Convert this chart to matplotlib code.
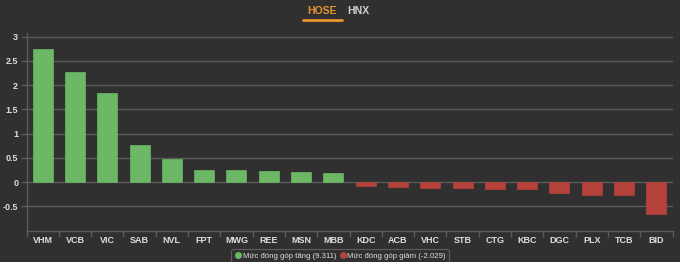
import matplotlib
matplotlib.use("Agg")
import matplotlib.pyplot as plt
from matplotlib.lines import Line2D

plt.rcParams["font.family"] = ["Liberation Sans", "DejaVu Sans"]

# data (HOSE tab)
tickers = ["VHM", "VCB", "VIC", "SAB", "NVL", "FPT", "MWG", "REE", "MSN", "MBB",
           "KDC", "ACB", "VHC", "STB", "CTG", "KBC", "DGC", "PLX", "TCB", "BID"]
contrib = [2.745, 2.27, 1.83, 0.77, 0.48, 0.26, 0.25, 0.23, 0.205, 0.18,
           -0.07, -0.095, -0.11, -0.12, -0.135, -0.15, -0.225, -0.27, -0.27, -0.65]
yticks = [-0.5, 0, 0.5, 1, 1.5, 2, 2.5, 3]
ytick_labels = ["-0.5", "0", "0.5", "1", "1.5", "2", "2.5", "3"]
legend_up = "Mức đóng góp tăng (9.311)"
legend_down = "Mức đóng góp giảm (-2.029)"
tabs = ["HOSE", "HNX"]

BG = "#303030"
GREEN = "#6db866"
RED = "#b5433b"
GRID = "#5a5a5a"
TXT = "#dedede"

fig = plt.figure(figsize=(6.8, 2.62), dpi=100, facecolor=BG)
ax = fig.add_axes([0.039, 0.1195, 0.95, 0.7555], facecolor=BG)

colors = [GREEN if v >= 0 else RED for v in contrib]
x = range(len(tickers))
ax.bar(x, contrib, width=0.62, color=colors, edgecolor=colors, linewidth=0.5, zorder=3)

ax.set_xlim(-0.5, len(tickers) - 0.5)
ax.set_ylim(-1.0, 3.08)
ax.set_yticks(yticks)
ax.set_yticklabels(ytick_labels)
ax.set_xticks(list(x))
ax.set_xticklabels(tickers)
ax.set_xticks([i - 0.5 for i in range(len(tickers) + 1)], minor=True)

ax.grid(axis="y", color=GRID, linewidth=1.0, zorder=1)
ax.tick_params(axis="y", colors=GRID, labelcolor=TXT, labelsize=6.5, length=4, width=1, pad=2)
ax.tick_params(axis="x", which="major", length=0, labelcolor=TXT, labelsize=6.5, pad=4)
ax.tick_params(axis="x", which="minor", colors=GRID, length=4, width=1)
for lab in ax.get_xticklabels() + ax.get_yticklabels():
    lab.set_fontweight("bold")

for side in ["top", "right"]:
    ax.spines[side].set_visible(False)
for side in ["left", "bottom"]:
    ax.spines[side].set_color(GRID)
    ax.spines[side].set_linewidth(1.0)

# tabs on top
fig.text(322 / 680, 1 - 11 / 262, tabs[0], color="#e8962f", fontsize=7.5,
         fontweight="bold", ha="center", va="center")
fig.text(358.5 / 680, 1 - 11 / 262, tabs[1], color="#cfcfcf", fontsize=7.5,
         fontweight="bold", ha="center", va="center")
fig.add_artist(Line2D([303 / 680, 342 / 680], [1 - 20 / 262, 1 - 20 / 262],
                      color="#e8962f", linewidth=2, solid_capstyle="round"))

handles = [
    Line2D([], [], marker="o", linestyle="none", color=GREEN, markersize=4),
    Line2D([], [], marker="o", linestyle="none", color=RED, markersize=4),
]
leg = fig.legend(handles, [legend_up, legend_down], loc="upper center",
                 bbox_to_anchor=(340 / 680, 1 - 249 / 262), ncol=2, frameon=True,
                 fontsize=5.6, handletextpad=0.05, columnspacing=0.3,
                 handlelength=1.0, borderpad=0.4, borderaxespad=0)
leg.get_frame().set_facecolor(BG)
leg.get_frame().set_edgecolor("#6a6a6a")
leg.get_frame().set_linewidth(0.8)
for t in leg.get_texts():
    t.set_color(TXT)

fig.savefig("out.png", dpi=100, facecolor=BG)
